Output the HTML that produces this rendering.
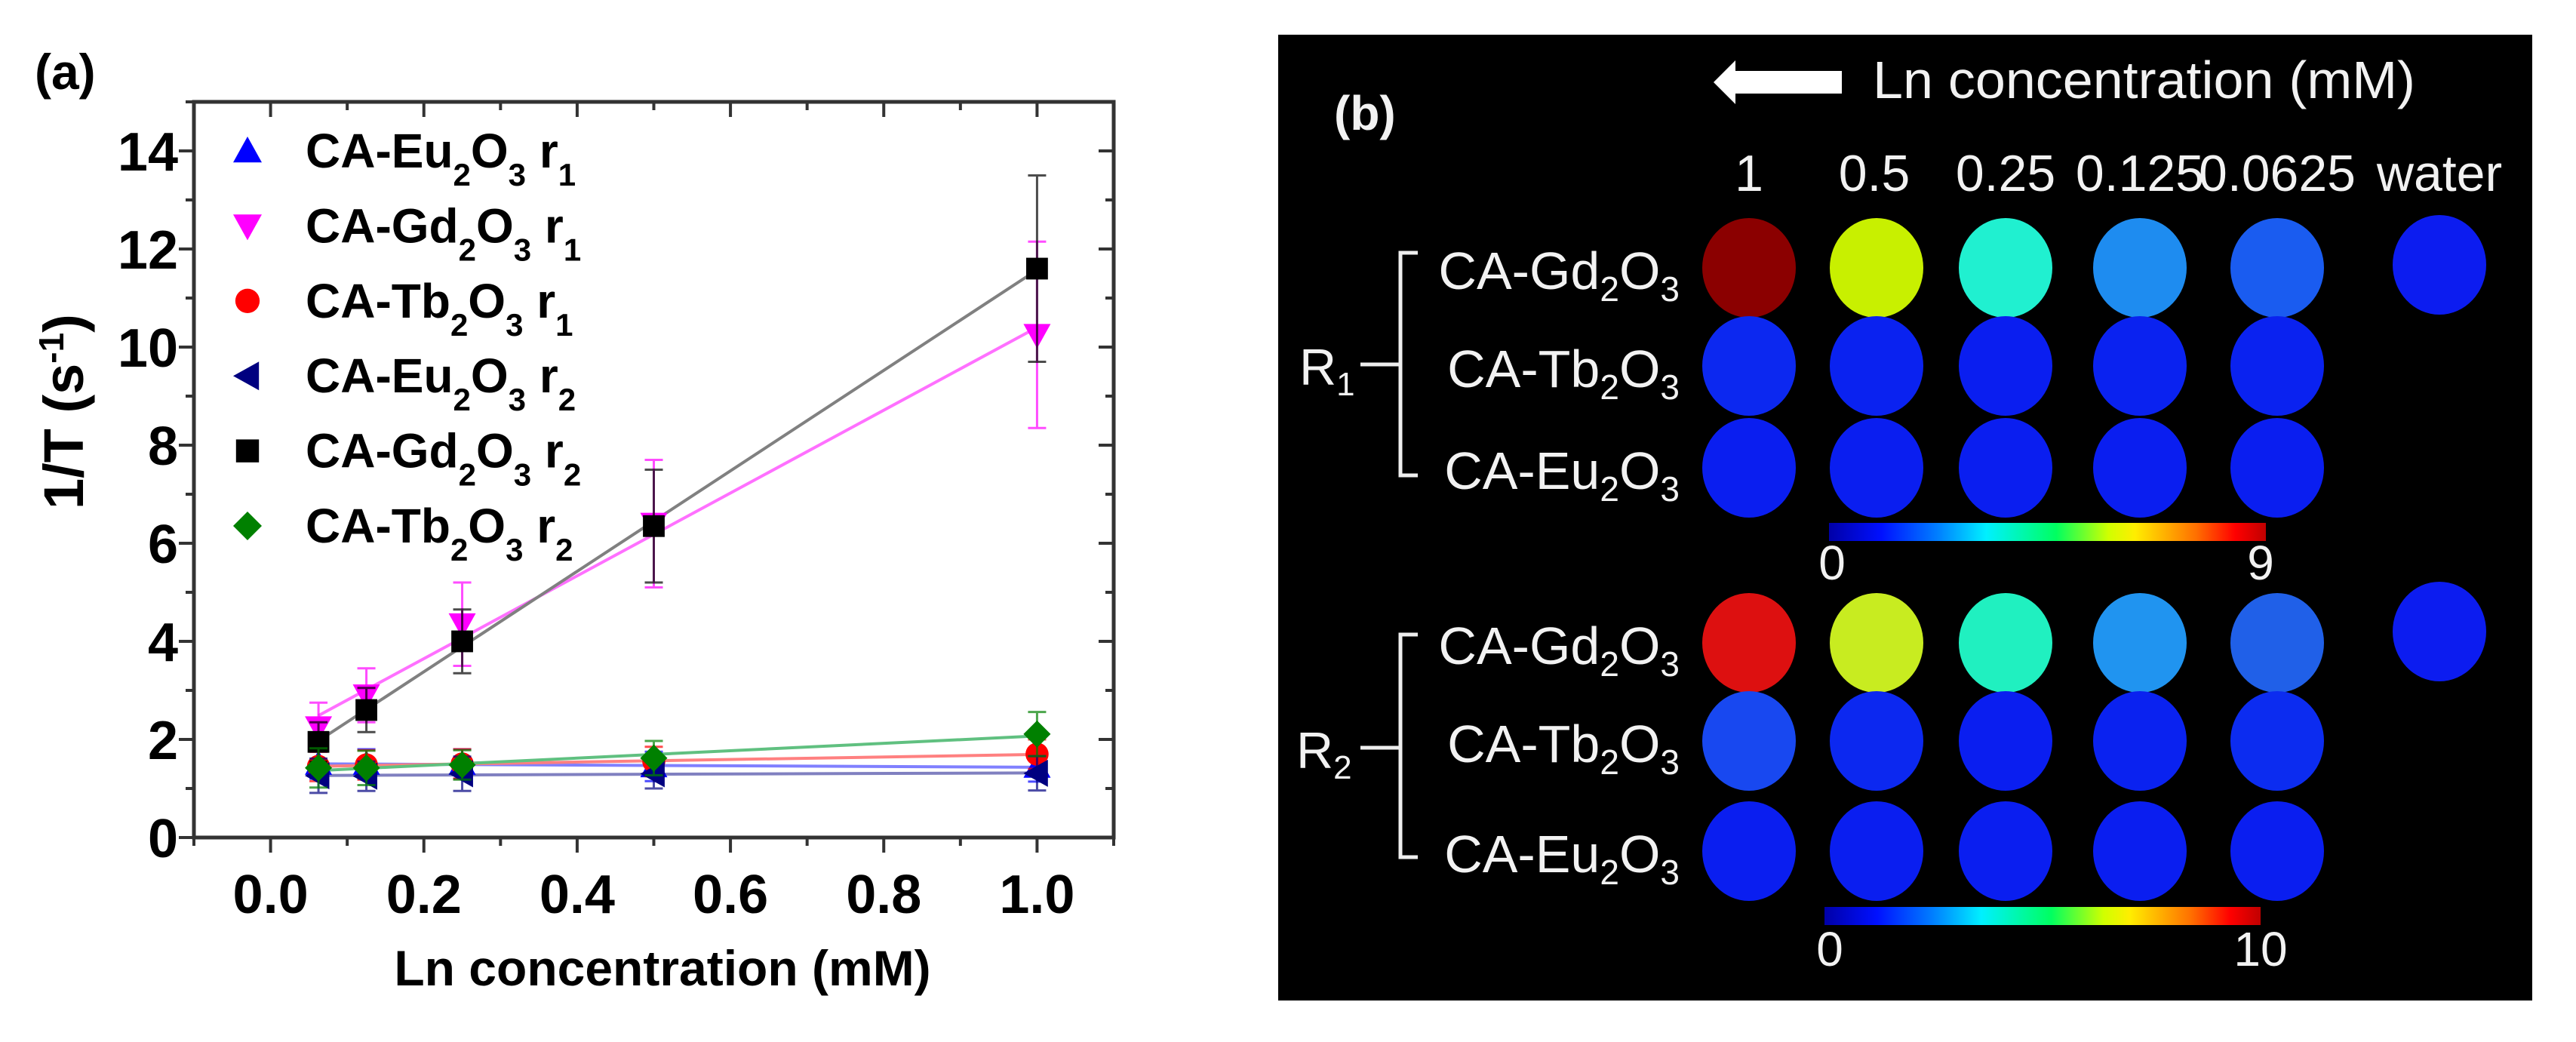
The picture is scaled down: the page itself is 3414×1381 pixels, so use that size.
<!DOCTYPE html>
<html><head><meta charset="utf-8">
<style>
html,body{margin:0;padding:0;background:#fff;}
svg{display:block;}
.ax{font-family:"Liberation Sans",Arial,sans-serif;font-weight:bold;}
.wt{font-family:"Liberation Sans","Noto Sans CJK SC",sans-serif;fill:#f2f2f2;}
</style></head>
<body>
<svg id="fig" width="3414" height="1381" viewBox="0 0 3414 1381" xmlns="http://www.w3.org/2000/svg">
  <rect x="0" y="0" width="3414" height="1381" fill="#fff"/>
  <g id="panelA">
    <text class="ax" x="46" y="118" font-size="66">(a)</text>
    <g id="aTicks"></g>
    <g id="aSeries"></g>
    <rect x="257" y="135" width="1219" height="975" fill="none" stroke="#333" stroke-width="5"/>
    <text class="ax" x="878" y="1306" font-size="66" text-anchor="middle">Ln concentration (mM)</text>
    <text class="ax" transform="translate(110,675) rotate(-90)" font-size="74">1/T (s<tspan dy="-26" font-size="46">-1</tspan><tspan dy="26">)</tspan></text>
    <g id="aLegend"></g>
  </g>

  <g id="panelB">
    <rect x="1694" y="46" width="1662" height="1280" fill="#000"/>
    <text class="wt" x="1768" y="172" font-size="64" font-weight="bold">(b)</text>
    <polygon points="2271,109 2300,80 2300,94 2441,94 2441,124 2300,124 2300,138" fill="#fff"/>
    <text class="wt" x="2482" y="130" font-size="70" textLength="719" lengthAdjust="spacingAndGlyphs">Ln concentration (mM)</text>
    <g id="colLabels"></g>
    <g id="circles"></g>
    <g id="rowLabels"></g>
    <g fill="none" stroke="#eee" stroke-width="5">
      <path d="M1879,335 H1856 V630 H1879 M1803,483 H1856"/>
    </g>
    <g fill="none" stroke="#eee" stroke-width="5">
      <path d="M1879,841 H1856 V1136 H1879 M1803,991 H1856"/>
    </g>
    <text class="wt" x="1722" y="510" font-size="68">R<tspan dy="14" font-size="44">1</tspan></text>
    <text class="wt" x="1718" y="1018" font-size="68">R<tspan dy="14" font-size="44">2</tspan></text>
    <defs>
      <linearGradient id="jet" x1="0" x2="1" y1="0" y2="0">
        <stop offset="0" stop-color="#0000a8"/>
        <stop offset="0.12" stop-color="#0010ff"/>
        <stop offset="0.25" stop-color="#0080ff"/>
        <stop offset="0.36" stop-color="#00f0ff"/>
        <stop offset="0.52" stop-color="#00ff60"/>
        <stop offset="0.64" stop-color="#d0ff00"/>
        <stop offset="0.7" stop-color="#ffee00"/>
        <stop offset="0.84" stop-color="#ff7000"/>
        <stop offset="0.93" stop-color="#ff0000"/>
        <stop offset="1" stop-color="#c00000"/>
      </linearGradient>
    </defs>
    <rect x="2424" y="693" width="579" height="24" fill="url(#jet)"/>
    <text class="wt" x="2428" y="768" font-size="64" text-anchor="middle">0</text>
    <text class="wt" x="2996" y="768" font-size="64" text-anchor="middle">9</text>
    <rect x="2418" y="1202" width="578" height="24" fill="url(#jet)"/>
    <text class="wt" x="2425" y="1280" font-size="64" text-anchor="middle">0</text>
    <text class="wt" x="2996" y="1280" font-size="64" text-anchor="middle">10</text>
  </g>
</svg>
<script>
const NS="http://www.w3.org/2000/svg";
// ---- chart (a) data ----
const xConc=[0.0625,0.125,0.25,0.5,1.0];
const euR1=[1.5,1.5,1.5,1.45,1.44];
const euR1Err=[0.3,0.3,0.3,0.3,0.3];
const gdR1=[2.25,2.9,4.35,6.4,10.25];
const gdR1Err=[0.5,0.55,0.85,1.3,1.9];
const tbR1=[1.45,1.48,1.5,1.55,1.7];
const tbR1Err=[0.3,0.3,0.3,0.3,0.3];
const euR2=[1.26,1.25,1.3,1.3,1.31];
const euR2Err=[0.35,0.3,0.35,0.3,0.35];
const gdR2=[1.95,2.6,4.0,6.35,11.6];
const gdR2Err=[0.4,0.45,0.65,1.15,1.9];
const tbR2=[1.42,1.42,1.48,1.62,2.11];
const tbR2Err=[0.4,0.35,0.3,0.35,0.45];
const xTicks=[0.0,0.2,0.4,0.6,0.8,1.0];
const xTickLabels=["0.0","0.2","0.4","0.6","0.8","1.0"];
const yTicks=[0,2,4,6,8,10,12,14];
const yTickLabels=["0","2","4","6","8","10","12","14"];
const xMin=-0.1,xMax=1.1,yMin=0,yMax=15;
const L=257,R=1476,T=135,B=1110;
const sx=v=>L+(v-xMin)/(xMax-xMin)*(R-L);
const sy=v=>B-(v-yMin)/(yMax-yMin)*(B-T);
function mk(tag,attrs,parent){const e=document.createElementNS(NS,tag);for(const k in attrs)e.setAttribute(k,attrs[k]);parent.appendChild(e);return e;}

const tg=document.getElementById('aTicks');
for(let v=-0.1;v<=1.1001;v+=0.1){
  const major=Math.abs(Math.round(v*10)%2)===0;
  const x=sx(v);const len=major?20:11;
  const t1=mk('line',{x1:x,x2:x,y1:B,y2:B+len,stroke:'#333','stroke-width':4},tg);
  
  
  const t2=mk('line',{x1:x,x2:x,y1:T,y2:T+len,stroke:'#333','stroke-width':4},tg);
  
  
}
for(let v=0;v<=15;v+=1){
  const major=v%2===0;const y=sy(v);const len=major?20:11;
  const t1=mk('line',{x1:L-len,x2:L,y1:y,y2:y,stroke:'#333','stroke-width':4},tg);
  
  
  const t2=mk('line',{x1:R-len,x2:R,y1:y,y2:y,stroke:'#333','stroke-width':4},tg);
  
  
}
xTicks.forEach((v,i)=>{
  const t=mk('text',{x:sx(v),y:1210,'font-size':72,'text-anchor':'middle',class:'ax'},tg);
  t.textContent=xTickLabels[i];
  
  
});
yTicks.forEach((v,i)=>{
  const t=mk('text',{x:236,y:sy(v)+26,'font-size':72,'text-anchor':'end',class:'ax'},tg);
  t.textContent=yTickLabels[i];
  
  
});

function marker(shape,x,y,color,s,parent){
  let e;
  if(shape==='up')e=mk('polygon',{points:`${x},${y-s} ${x-s},${y+s*0.8} ${x+s},${y+s*0.8}`,fill:color},parent);
  else if(shape==='down')e=mk('polygon',{points:`${x},${y+s} ${x-s},${y-s*0.8} ${x+s},${y-s*0.8}`,fill:color},parent);
  else if(shape==='left')e=mk('polygon',{points:`${x-s},${y} ${x+s*0.8},${y-s} ${x+s*0.8},${y+s}`,fill:color},parent);
  else if(shape==='circle')e=mk('circle',{cx:x,cy:y,r:s*0.85,fill:color},parent);
  else if(shape==='square')e=mk('rect',{x:x-s*0.8,y:y-s*0.8,width:s*1.6,height:s*1.6,fill:color},parent);
  else e=mk('polygon',{points:`${x},${y-s} ${x+s},${y} ${x},${y+s} ${x-s},${y}`,fill:color},parent);
  return e;
}
function fit(xs,ys){const n=xs.length;let mx=0,my=0;for(let i=0;i<n;i++){mx+=xs[i];my+=ys[i];}mx/=n;my/=n;let a=0,b=0;for(let i=0;i<n;i++){a+=(xs[i]-mx)*(ys[i]-my);b+=(xs[i]-mx)**2;}const k=a/b;return[k,my-k*mx];}

const series=[
 {name:'eu-r1',vals:euR1,err:euR1Err,color:'#0000ff',line:'#8080ff',shape:'up',lab:['Eu','1']},
 {name:'gd-r1',vals:gdR1,err:gdR1Err,color:'#ff00ff',line:'#ff70ff',shape:'down',lab:['Gd','1']},
 {name:'tb-r1',vals:tbR1,err:tbR1Err,color:'#ff0000',line:'#ff8080',shape:'circle',lab:['Tb','1']},
 {name:'eu-r2',vals:euR2,err:euR2Err,color:'#000080',line:'#8080c0',shape:'left',lab:['Eu','2']},
 {name:'gd-r2',vals:gdR2,err:gdR2Err,color:'#000000',line:'#808080',shape:'square',lab:['Gd','2']},
 {name:'tb-r2',vals:tbR2,err:tbR2Err,color:'#008000',line:'#60c080',shape:'diamond',lab:['Tb','2']}
];
const sg=document.getElementById('aSeries');
series.forEach(s=>{
  const g=mk('g',{},sg);
  
  
  const [k,b]=fit(xConc,s.vals);
  const ln=mk('line',{x1:sx(xConc[0]),y1:sy(k*xConc[0]+b),x2:sx(1.0),y2:sy(k+b),stroke:s.line,'stroke-width':4},g);
  
  
});
series.forEach(s=>{
  const g=mk('g',{},sg);
  
  
  xConc.forEach((xv,i)=>{
    const x=sx(xv),y1=sy(s.vals[i]-s.err[i]),y2=sy(s.vals[i]+s.err[i]);
    const eb=mk('path',{d:`M${x},${y1}V${y2}M${x-12},${y1}H${x+12}M${x-12},${y2}H${x+12}`,stroke:s.color,'stroke-width':3,fill:'none',opacity:0.7},g);
    
    
    const m=marker(s.shape,x,sy(s.vals[i]),s.color,18,g);
    
    
  });
});
const lg=document.getElementById('aLegend');
series.forEach((s,i)=>{
  const y=222+i*99.4;
  const g=mk('g',{},lg);
  
  
  const m=marker(s.shape,328,y-22,s.color,19,g);
  
  
  const t=mk('text',{x:405,y:y,'font-size':64,class:'ax'},g);
  t.innerHTML=`CA-${s.lab[0]}<tspan dy="24" font-size="42">2</tspan><tspan dy="-24">O</tspan><tspan dy="24" font-size="42">3</tspan><tspan dy="-24"> r</tspan><tspan dy="24" font-size="42">${s.lab[1]}</tspan>`;
  
  
});

// ---- panel (b) data ----
const colNames=["1","0.5","0.25","0.125","0.0625","water"];
const colX=[2318,2487,2658,2836,3018,3233];
const rowNames=["Gd","Tb","Eu","Gd","Tb","Eu"];
const rowY=[355,485,620,852,982,1128];
const waterY=[351,837];
const r1Gd=["#8b0000","#c8f000","#20f0d0","#1e8cf0","#1a5cf0"];
const r1Tb=["#0c28f0","#0a22f0","#0a1ef0","#0a22f0","#0a22f0"];
const r1Eu=["#0a1ef0","#0a1ef0","#0a1ef0","#0a1ef0","#0a1ef0"];
const r2Gd=["#dd1010","#c8ec20","#20f0c0","#2094f0","#2060e8"];
const r2Tb=["#1848f0","#0c28f0","#0a1ef0","#0a22f0","#0c2cf0"];
const r2Eu=["#0a1ef0","#0a1ef0","#0a1ef0","#0a1ef0","#0a1ef0"];
const waterCol=["#0c1cf0","#0c1cf0"];
const grid=[r1Gd,r1Tb,r1Eu,r2Gd,r2Tb,r2Eu];

const cl=document.getElementById('colLabels');
colNames.forEach((n,i)=>{
  const t=mk('text',{x:colX[i]+(i===1?-3:0),y:253,'font-size':68,'text-anchor':'middle',class:'wt'},cl);
  t.textContent=n;
  
  
});
const cg=document.getElementById('circles');
grid.forEach((row,r)=>{
  row.forEach((c,j)=>{
    const e=mk('ellipse',{cx:colX[j],cy:rowY[r],rx:62,ry:66,fill:c},cg);
    
    
  });
});
waterY.forEach((y,i)=>{
  const e=mk('ellipse',{cx:colX[5],cy:y,rx:62,ry:66,fill:waterCol[i]},cg);
  
  
});
const rl=document.getElementById('rowLabels');
rowNames.forEach((n,i)=>{
  const t=mk('text',{x:2226,y:rowY[i]+28,'font-size':70,'text-anchor':'end',class:'wt'},rl);
  t.innerHTML=`CA-${n}<tspan dy="16" font-size="46">2</tspan><tspan dy="-16">O</tspan><tspan dy="16" font-size="46">3</tspan>`;
  
  
});
</script>
</body></html>
